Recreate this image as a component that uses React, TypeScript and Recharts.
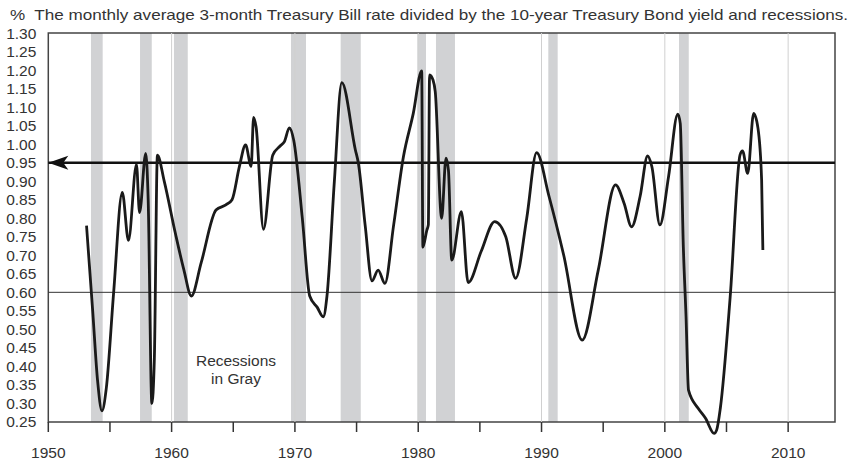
import { ComposedChart, Line, XAxis, YAxis, ReferenceArea, ReferenceLine, ReferenceDot } from 'recharts'

// ratio of 3-month T-bill to 10-year bond yield
const years = [
  1953.1, 1953.6, 1954.0, 1954.35, 1954.7, 1955.3, 1956.0, 1956.5, 1957.15, 1957.4, 1957.9, 1958.1,
  1958.4, 1958.6, 1958.85, 1959.4, 1960.3, 1961.0, 1961.6, 1962.4, 1963.6, 1964.4, 1964.9, 1965.5,
  1966.0, 1966.45, 1966.65, 1966.85, 1967.45, 1968.2, 1968.8, 1969.15, 1969.55, 1969.9, 1970.6,
  1971.2, 1971.8, 1972.3, 1972.6, 1973.2, 1973.8, 1974.9, 1975.15, 1975.7, 1976.25, 1976.75, 1977.3,
  1978.0, 1978.8, 1979.6, 1980.28, 1980.38, 1980.7, 1980.82, 1980.92, 1981.2, 1981.38, 1981.9,
  1982.25, 1982.45, 1982.72, 1983.5, 1984.05, 1985.1, 1986.2, 1987.1, 1987.9, 1988.8, 1989.6,
  1990.6, 1991.8, 1993.3, 1994.6, 1996.0, 1996.7, 1997.3, 1998.0, 1998.6, 1998.95, 1999.6, 2000.3,
  2001.05, 2001.25, 2001.5, 2001.72, 2001.92, 2002.7, 2003.3, 2004.0, 2004.2, 2004.5, 2005.3,
  2006.1, 2006.3, 2006.72, 2007.2, 2007.55, 2007.85, 2007.95,
]
const ratio = [
  0.78, 0.55, 0.36, 0.28, 0.34, 0.6, 0.87, 0.74, 0.945, 0.815, 0.975, 0.85,
  0.3, 0.42, 0.97, 0.9, 0.76, 0.66, 0.59, 0.68, 0.822, 0.836, 0.85, 0.94,
  0.998, 0.94, 1.072, 1.047, 0.77, 0.97, 0.995, 1.007, 1.044, 1.011, 0.8,
  0.59, 0.56, 0.534, 0.59, 0.9, 1.166, 0.985, 0.948, 0.78, 0.631, 0.66, 0.624,
  0.78, 0.966, 1.083, 1.198, 0.722, 0.768, 0.782, 1.187, 1.173, 1.142, 0.8,
  0.962, 0.93, 0.687, 0.818, 0.626, 0.71, 0.791, 0.75, 0.638, 0.8, 0.977,
  0.86, 0.7, 0.471, 0.66, 0.89, 0.84, 0.777, 0.86, 0.968, 0.939, 0.782, 0.912,
  1.081, 1.056, 0.723, 0.534, 0.336, 0.287, 0.26, 0.219, 0.228, 0.287, 0.588,
  0.971, 0.982, 0.921, 1.083, 1.044, 0.903, 0.714,
]

const recessionStart = [1953.46, 1957.44, 1960.19, 1969.68, 1973.71, 1979.93, 1981.44, 1990.55, 2001.15]
const recessionEnd = [1954.41, 1958.39, 1961.31, 1970.9, 1975.34, 1980.63, 1982.98, 1991.31, 2001.94]

const yTicks = [0.25, 0.3, 0.35, 0.4, 0.45, 0.5, 0.55, 0.6, 0.65, 0.7, 0.75, 0.8, 0.85, 0.9, 0.95, 1.0, 1.05, 1.1, 1.15, 1.2, 1.25, 1.3]
const xTicks = [1950, 1955, 1960, 1965, 1970, 1975, 1980, 1985, 1990, 1995, 2000, 2005, 2010]
const decadeLines = [1960, 1970, 1980, 1990, 2000, 2010]

const title = '%  The monthly average 3-month Treasury Bill rate divided by the 10-year Treasury Bond yield and recessions.'

const data = years.map((year, i) => ({ year, ratio: ratio[i] }))

const FONT = '"Liberation Sans", Arial, sans-serif'
const X_MIN = 1950
const X_MAX = 2013.8
const Y_FLOOR = 0.25
const Y_TOP = 1.3
// distance in px between the 0.25 floor and the plot bottom (0.20)
const AXIS_SHIFT = 18.5

function YearTick({ x, y, payload }: any) {
  const axisY = y - AXIS_SHIFT
  return (
    <g>
      <line x1={x} x2={x} y1={axisY} y2={axisY + 10} stroke="#333" strokeWidth={1.5} />
      {payload.value % 10 === 0 && (
        <text x={x} y={axisY + 36} textAnchor="middle" fontSize={15.5} fontFamily={FONT} fill="#333">
          {payload.value}
        </text>
      )}
    </g>
  )
}

function ArrowHead({ cx, cy }: any) {
  return <path d={`M${cx},${cy} L${cx + 20},${cy - 7} L${cx + 15},${cy} L${cx + 20},${cy + 7} Z`} fill="#111" />
}

export default function App() {
  return (
    <div style={{ position: 'absolute', left: 0, top: 0, width: 852, height: 461, background: '#fff' }}>
      <svg width={852} height={24} style={{ position: 'absolute', left: 0, top: 0 }}>
        <text x={10} y={20} fontFamily={FONT} fontSize={14.5} fill="#333" textLength={838} lengthAdjust="spacingAndGlyphs" xmlSpace="preserve">
          {title}
        </text>
      </svg>
      <ComposedChart width={852} height={461} data={data} margin={{ top: 33, right: 17, bottom: 0, left: 0 }}>
        {recessionStart.map((start, i) => (
          <ReferenceArea key={start} x1={start} x2={recessionEnd[i]} y1={Y_FLOOR} y2={Y_TOP} fill="#d1d2d4" fillOpacity={1} stroke="none" />
        ))}
        {decadeLines.map(d => (
          <ReferenceLine key={d} segment={[{ x: d, y: Y_FLOOR }, { x: d, y: Y_TOP }]} stroke="#d0d0d0" strokeWidth={1} />
        ))}
        <ReferenceArea x1={X_MIN} x2={X_MAX} y1={Y_FLOOR} y2={Y_TOP} fill="none" stroke="#444" strokeWidth={1.5} />
        <ReferenceLine y={0.6} stroke="#333" strokeWidth={1} />
        <ReferenceLine y={0.95} stroke="#111" strokeWidth={2.5} />
        <ReferenceDot x={X_MIN} y={0.95} shape={<ArrowHead />} />
        <XAxis
          dataKey="year"
          type="number"
          domain={[X_MIN, X_MAX]}
          ticks={xTicks}
          height={20.5}
          axisLine={false}
          tickLine={false}
          tickSize={0}
          tickMargin={0}
          interval={0}
          tick={<YearTick />}
        />
        <YAxis
          type="number"
          domain={[0.2, Y_TOP]}
          ticks={yTicks}
          width={48.3}
          axisLine={false}
          tickLine={false}
          tickSize={0}
          tickMargin={12}
          interval={0}
          tickFormatter={(v: number) => v.toFixed(2)}
          tick={{ fontSize: 15.5, fontFamily: FONT, fill: '#333' }}
        />
        <Line type="monotone" dataKey="ratio" stroke="#1a1a1a" strokeWidth={2.8} dot={false} isAnimationActive={false} />
      </ComposedChart>
      <div style={{ position: 'absolute', left: 186, top: 352, width: 100, textAlign: 'center', fontFamily: FONT, fontSize: 15.5, lineHeight: '18px', color: '#333' }}>
        Recessions
        <br />
        in Gray
      </div>
    </div>
  )
}
